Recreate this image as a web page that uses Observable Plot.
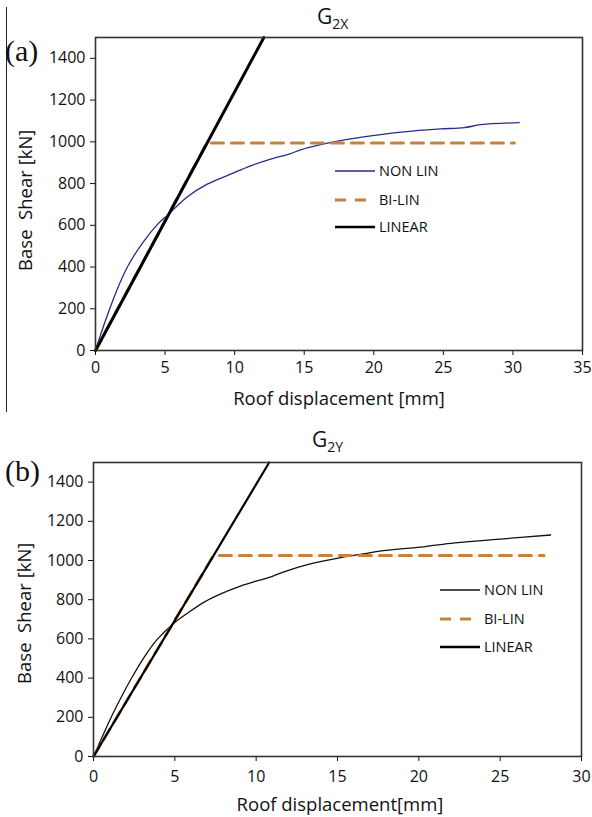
<!DOCTYPE html>
<html><head><meta charset="utf-8">
<script src="https://cdn.jsdelivr.net/npm/d3@7"></script>
<script src="https://cdn.jsdelivr.net/npm/@observablehq/plot@0.6"></script>
<style>
body{margin:0;background:#fff;font-family:"Open Sans",sans-serif;}
#wrap{position:relative;width:592px;height:817px;overflow:hidden;background:#fff;}
.abs{position:absolute;white-space:nowrap;color:#111;line-height:1;}
.chart{position:absolute;left:0;}
.ttl{font-size:21px;}
.ttl sub{font-size:14px;vertical-align:-5px;}
.panel{font-family:"Liberation Serif","DejaVu Serif",serif;font-size:30px;}
.xl{font-size:18.5px;width:400px;text-align:center;}
.yl{font-size:18.5px;width:300px;text-align:center;transform:rotate(-90deg);}
.leg{font-size:14.5px;display:flex;align-items:center;}
.leg svg{margin-right:4px;}
</style></head><body><div id="wrap"></div>
<script>
// ---------- DATA ----------
// Panel (a) G2X
const aNonLinX = [0, 0.5, 1.05, 1.7, 2.33, 3.4, 4.44, 5.28, 6.59, 8.03, 9.71, 11.15, 12.59, 14.03, 14.75, 16.42, 18.1, 20.5, 22.9, 24.8, 26.5, 27.7, 30.45];
const aNonLinY = [0, 102, 205, 315, 405, 517, 603, 655, 736, 797, 845, 885, 917, 944, 962, 990, 1012, 1035, 1053, 1062, 1068, 1082, 1092];
const aBiLinX = [0, 8.0, 30.1];
const aBiLinY = [0, 994, 994];
const aLinearX = [0, 12.1];
const aLinearY = [0, 1500];
const aXTicks = [0, 5, 10, 15, 20, 25, 30, 35];

// Panel (b) G2Y
const bNonLinX = [0, 0.6, 1.13, 1.75, 2.36, 3.1, 3.89, 4.92, 5.84, 6.86, 7.89, 8.91, 9.94, 10.96, 11.8, 13.1, 15.2, 16.8, 17.6, 20.3, 22.2, 25.4, 28.1];
const bNonLinY = [0, 112, 208, 310, 403, 505, 595, 679, 735, 790, 832, 866, 893, 918, 945, 978, 1015, 1036, 1048, 1070, 1090, 1112, 1130];
const bBiLinX = [0, 7.37, 27.7];
const bBiLinY = [0, 1025, 1025];
const bLinearX = [0, 10.8];
const bLinearY = [0, 1500];
const bXTicks = [0, 5, 10, 15, 20, 25, 30];

const yTicks = [0, 200, 400, 600, 800, 1000, 1200, 1400];
const seriesNames = ["NON LIN", "BI-LIN", "LINEAR"];

// ---------- BUILD ----------
const wrap = document.getElementById("wrap");
const BI = "#c4823c";
const pts = (xs, ys) => xs.map((x, i) => ({x, y: ys[i]}));

function chart(o) {
  const p = Plot.plot({
    width: 592, height: o.height,
    marginLeft: o.mL, marginRight: o.mR, marginTop: o.mT, marginBottom: o.mB,
    style: {fontFamily: "'Open Sans', sans-serif", fontSize: "16px", color: "#111", background: "transparent", overflow: "visible"},
    x: {domain: [0, o.xMax], ticks: o.xTicks, tickSize: 5, tickPadding: o.xPad, tickFormat: "d", label: null},
    y: {domain: [0, 1500], ticks: yTicks, tickSize: 5, tickPadding: 5, tickFormat: "d", label: null},
    marks: [
      Plot.line(pts(o.nx, o.ny), {x: "x", y: "y", stroke: o.nonColor, strokeWidth: 1.3, curve: "catmull-rom"}),
      Plot.line(pts(o.bx, o.by), {x: "x", y: "y", stroke: BI, strokeWidth: 3, strokeDasharray: "12,8"}),
      Plot.line(pts(o.lx, o.ly), {x: "x", y: "y", stroke: "#000", strokeWidth: o.linW}),
      Plot.frame({stroke: "#333", strokeWidth: 1.6})
    ]
  });
  p.classList.add("chart");
  p.style.top = o.top + "px";
  wrap.appendChild(p);
}

chart({top: 0, height: 410, mL: 95, mR: 10, mT: 37, mB: 60, xMax: 35, xTicks: aXTicks, xPad: 6,
  nx: aNonLinX, ny: aNonLinY, nonColor: "#2b2a8e", bx: aBiLinX, by: aBiLinY, lx: aLinearX, ly: aLinearY, linW: 3});
chart({top: 410, height: 407, mL: 93, mR: 11, mT: 52, mB: 61, xMax: 30, xTicks: bXTicks, xPad: 9,
  nx: bNonLinX, ny: bNonLinY, nonColor: "#111", bx: bBiLinX, by: bBiLinY, lx: bLinearX, ly: bLinearY, linW: 2.2});

function add(cls, html, css) {
  const d = document.createElement("div");
  d.className = "abs " + cls;
  d.innerHTML = html;
  Object.assign(d.style, css);
  wrap.appendChild(d);
  return d;
}
// left rule
add("", "", {left: "6px", top: "7px", width: "0", height: "405px", borderLeft: "1.5px solid #222"});
// titles
add("ttl", "G<sub>2X</sub>", {left: "317px", top: "6px"});
add("ttl", "G<sub>2Y</sub>", {left: "312px", top: "429px"});
add("panel", "(a)", {left: "5px", top: "36px"});
add("panel", "(b)", {left: "5px", top: "456px"});
// axis labels
add("xl", "Roof displacement [mm]", {left: "139px", top: "389px"});
add("xl", "Roof displacement[mm]", {left: "140px", top: "795px"});
add("yl", "Base&nbsp; Shear [kN]", {left: "-125px", top: "191px"});
add("yl", "Base&nbsp; Shear [kN]", {left: "-126px", top: "604px"});

// legends
function swatch(kind, color, w) {
  const dash = kind === 1 ? ' stroke-dasharray="11,9"' : '';
  return `<svg width="40" height="8"><line x1="0" y1="4" x2="40" y2="4" stroke="${color}" stroke-width="${w}"${dash}/></svg>`;
}
function legend(left, tops, nonColor) {
  const styles = [[nonColor, 1.3], [BI, 3], ["#000", 2.6]];
  seriesNames.forEach((n, i) => {
    add("leg", swatch(i, styles[i][0], styles[i][1]) + `<span>${n}</span>`, {left: left + "px", top: (tops[i] - 9) + "px"});
  });
}
legend(335, [173, 202, 229], "#2b2a8e");
legend(440, [592, 621, 649], "#111");
</script></body></html>
